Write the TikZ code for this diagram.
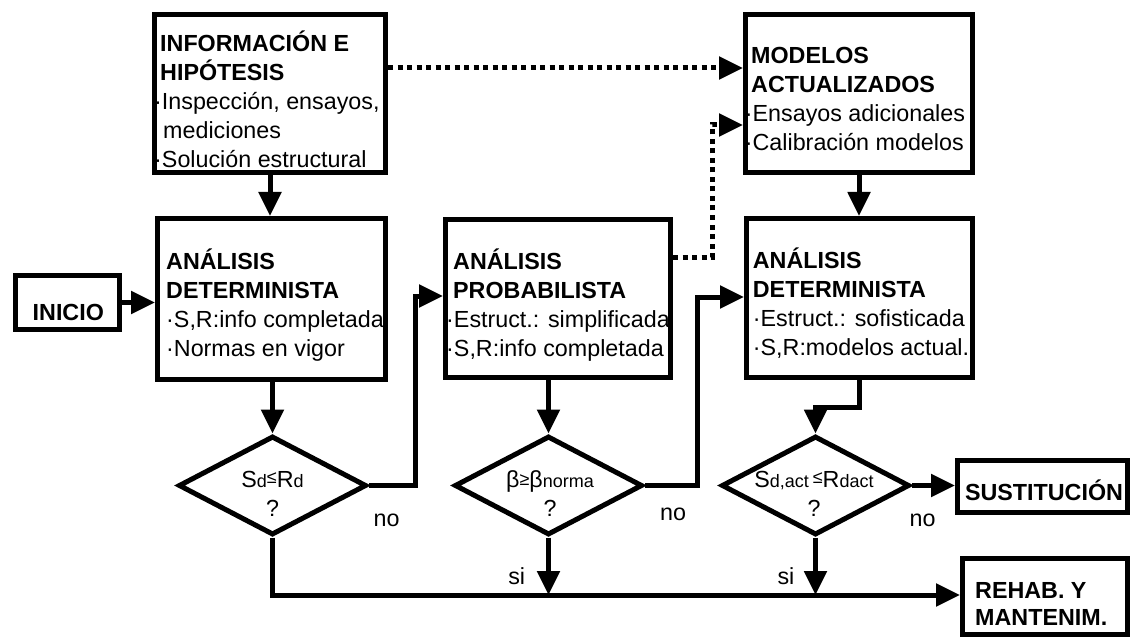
\documentclass[tikz,border=0pt]{standalone}
\usepackage{fontspec}
\setmainfont{Liberation Sans}
\usetikzlibrary{arrows.meta,shapes.geometric}
\newcommand\smf[1]{{\fontsize{18}{18}\selectfont #1}}
\newcommand\stt{\rule{0pt}{22pt}}
\begin{document}
\begin{tikzpicture}[x=1pt,y=-1pt,
  every node/.style={font=\fontsize{23.3}{29}\selectfont},
  box/.style={draw,line width=5pt,inner sep=0pt},
  dia/.style={diamond,draw,line width=5pt,inner sep=0pt,minimum width=188pt,minimum height=99pt},
  txt/.style={inner sep=0pt,anchor=north west,align=left},
  lbl/.style={inner sep=0pt,anchor=base},
  arr/.style={line width=5pt,-{Triangle[length=24pt,width=22pt]}},
  dotarr/.style={line width=5pt,dash pattern=on 5pt off 4.5pt,-{Triangle[length=24pt,width=22pt]}}]
\path[fill=white,use as bounding box] (0,0) rectangle (1132,639);

% boxes
\node[box,minimum width=231pt,minimum height=158pt] (b1) at (270,93.5) {};
\node[box,minimum width=228pt,minimum height=161pt] (b2) at (271.5,299) {};
\node[box,minimum width=225pt,minimum height=158pt] (b3) at (558,298.5) {};
\node[box,minimum width=227pt,minimum height=158pt] (b4) at (859,93.5) {};
\node[box,minimum width=226pt,minimum height=159pt] (b5) at (859.5,298) {};
\node[box,minimum width=104pt,minimum height=54pt] (ini) at (67.5,302.5) {};
\node[box,minimum width=170pt,minimum height=52pt] (sus) at (1042.5,486.5) {};
\node[box,minimum width=165pt,minimum height=76pt] (reh) at (1045,596.5) {};

% diamonds
\node[dia] (d1) at (272.5,485.5) {};
\node[dia] (d2) at (548.5,485.5) {};
\node[dia] (d3) at (815.5,485.5) {};

% box texts
\node[txt] (t1) at (154,29) {\stt\hspace*{6pt}\textbf{INFORMACIÓN E}\\\hspace*{6pt}\textbf{HIPÓTESIS}\\·Inspección, ensayos,\\\hspace*{9pt}mediciones\\·Solución estructural};
\node[txt] (t2) at (166,247) {\stt\textbf{ANÁLISIS}\\\textbf{DETERMINISTA}\\·S,R:info completada\\·Normas en vigor};
\node[txt] (t3) at (446,247) {\stt\hspace*{7pt}\textbf{ANÁLISIS}\\\hspace*{7pt}\textbf{PROBABILISTA}\\·Estruct.: simplificada\\·S,R:info completada};
\node[txt] (t4) at (744.7,41.3) {\stt\hspace*{6.3pt}\textbf{MODELOS}\\\hspace*{6.3pt}\textbf{ACTUALIZADOS}\\·Ensayos adicionales\\·Calibración modelos};
\node[txt] (t5) at (752.7,246) {\stt\textbf{ANÁLISIS}\\\textbf{DETERMINISTA}\\·Estruct.: sofisticada\\·S,R:modelos actual.};
\node[lbl,font=\fontsize{23.3}{29}\selectfont\bfseries] (tini) at (68.3,320.7) {INICIO};
\node[lbl,font=\fontsize{23.3}{29}\selectfont\bfseries] (tsus) at (1044,500) {SUSTITUCIÓN};
\node[txt,font=\fontsize{23.3}{27}\selectfont\bfseries] (treh) at (975,576) {\stt REHAB. Y\\MANTENIM.};

% diamond texts
\node[inner sep=0pt,anchor=north,align=center] (td1) at (272.5,465) {\stt S\smf{d}\raisebox{4pt}{\smf{≤}}R\smf{d}\\?};
\node[inner sep=0pt,anchor=north,align=center] (td2) at (550,465) {\stt β\raisebox{2pt}{\smf{≥}}β\smf{norma}\\?};
\node[inner sep=0pt,anchor=north,align=center] (td3) at (814,465) {\stt S\smf{d,act}\,\raisebox{4pt}{\smf{≤}}R\smf{dact}\\?};

% labels
\node[lbl] (no1) at (386.5,526.7) {no};
\node[lbl] (no2) at (673,520) {no};
\node[lbl] (no3) at (922.5,526.7) {no};
\node[lbl] (si1) at (516.7,584) {si};
\node[lbl] (si2) at (786,584) {si};

% helper coordinates
\coordinate (k0) at (0,68);
\coordinate (k1) at (415,296);
\coordinate (k2) at (712,257);
\coordinate (k3) at (712,125);
\coordinate (k4) at (697,297);
\coordinate (k5) at (815.5,407);
\coordinate (bl) at (0,595);

% connectors
\draw[arr] (b1.south) -- (b1.south |- b2.north);
\draw[arr] (ini.east) -- (ini.east -| b2.west);
\draw[arr] (d1.north |- b2.south) -- (d1.north);
\draw[arr] (d1.east) -| (k1) -- (k1 -| b3.west);
\draw[arr] (d2.north |- b3.south) -- (d2.north);
\draw[arr] (d2.east) -| (k4) -- (k4 -| b5.west);
\draw[arr] (b4.south) -- (b4.south |- b5.north);
\draw[arr] (b5.south) -- (b5.south |- k5) -- (k5) -- (d3.north);
\draw[arr] (d3.east) -- (d3.east -| sus.west);
\draw[arr] (d1.south) -- (d1.south |- bl) -- (bl -| reh.west);
\draw[arr] (d2.south) -- (d2.south |- bl);
\draw[arr] (d3.south) -- (d3.south |- bl);
\draw[dotarr] (k0 -| b1.east) -- (k0 -| b4.west);
\draw[dotarr] (k2 -| b3.east) -- (k2) -- (k3) -- (k3 -| b4.west);
\end{tikzpicture}
\end{document}
